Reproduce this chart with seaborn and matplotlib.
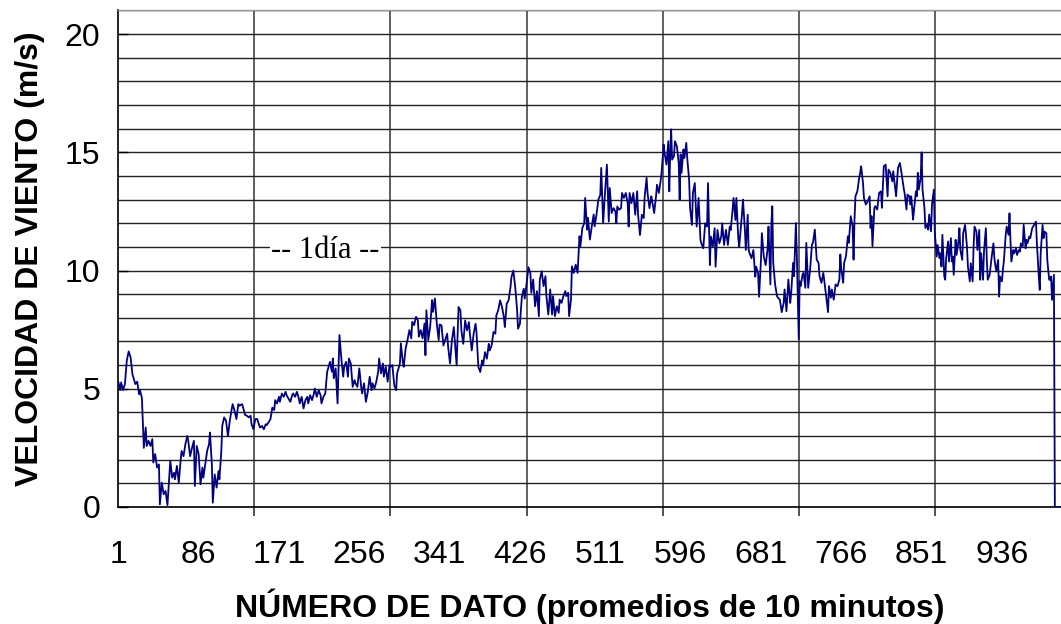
import matplotlib
matplotlib.use("Agg")
import matplotlib.pyplot as plt
import seaborn as sns
import numpy as np
import pandas as pd

# Ten-minute averaged wind speed record (sample number, m/s)
sample_idx = [
    1, 3, 4, 6, 8, 10, 12, 14, 16, 17, 19, 21, 23, 24, 26, 28, 30, 31, 33, 35,
    37, 38, 40, 42, 44, 45, 47, 49, 51, 53, 56, 58, 60, 61, 63, 65, 67, 68, 70, 72,
    74, 75, 77, 79, 81, 82, 84, 86, 88, 90, 91, 93, 95, 97, 98, 100, 101, 103, 105, 107,
    108, 110, 111, 113, 115, 117, 119, 121, 122, 124, 126, 128, 129, 132, 134, 135, 137, 139, 141, 142,
    144, 146, 148, 149, 151, 153, 155, 157, 158, 160, 162, 164, 166,
    167, 169, 171, 172, 174, 176, 178, 179, 181, 183, 185, 186, 188, 190, 192, 193, 195, 197, 199, 201,
    202, 204, 206, 208, 209, 211, 213, 215, 216, 218, 220, 222, 223, 225, 227, 228, 229, 231, 233, 235,
    237, 239, 240, 242, 244, 245, 247, 249, 251, 252, 254, 256, 258, 259, 261, 263, 265, 267, 269, 270,
    272, 274, 276, 277, 279, 281, 282, 284, 286, 288, 289, 291, 293, 295, 296, 299, 300, 302, 303, 305,
    307, 309, 311, 312, 314, 316, 318, 319, 321, 323, 325, 326, 327, 329, 331, 333, 334, 336, 338, 340,
    341, 343, 345, 349, 350, 352, 354, 356, 359, 361, 363, 364, 366, 368, 370, 372, 373, 375, 377, 379,
    380, 382, 384, 386, 387, 389, 391, 393, 394, 396, 398, 400, 401, 403, 405, 407, 409, 410, 412, 414,
    416, 417, 419, 421, 423, 424, 426, 428, 430, 431, 433, 435, 437, 438, 440, 442, 444, 446, 447, 449,
    451, 453, 454, 456, 458, 460, 461, 463, 465, 467, 468, 470, 472, 474, 475, 477, 478, 480, 481, 483,
    485, 487, 489, 490, 492, 494, 495, 497, 498, 500, 502, 504, 505, 507, 509, 511, 512, 514, 516, 518,
    520, 521, 523, 525, 527, 528, 529, 531, 533, 534, 536, 538, 540, 541, 542, 544, 546, 548, 550, 551,
    553, 555, 557, 558, 560, 561, 563, 565, 566, 568, 570, 571, 573, 575, 576, 578, 579, 581, 583, 584,
    585, 586, 587, 589, 590, 592, 594, 595, 596, 597, 599, 600, 602, 603, 605, 606, 608, 609, 611, 613,
    615, 617, 618, 620, 622, 624, 625, 627, 628, 630, 632, 633, 635, 637, 639, 640, 642, 644, 646, 648,
    649, 651, 652, 654, 655, 657, 658, 660, 661, 662, 664, 665, 667, 668, 669, 671, 673, 675, 676, 678,
    679, 681, 682, 684, 686, 688, 689, 691, 692, 693, 694, 696, 698, 699, 701, 703, 705, 706, 708, 710,
    712, 713, 715, 716, 718, 719, 721, 722, 723, 725, 726, 728, 729, 731, 733, 735, 736, 738, 740, 742,
    743, 745, 747, 749, 750, 752, 753, 755, 756, 758, 760, 762, 764, 765, 766, 768, 769, 771, 773, 774,
    776, 778, 779, 780, 781, 783, 785, 786, 787, 789, 790, 792, 794, 796, 797, 798, 799, 801, 802, 804,
    806, 808, 809, 811, 813, 815, 816, 818, 820, 821, 823, 824, 826, 828, 830, 832, 833, 835, 836, 838,
    839, 840, 842, 843, 845, 846, 847, 848, 850, 851, 852, 854, 855, 857, 858, 859, 861, 862, 864, 865,
    867, 868, 870, 871, 872, 873, 875, 876, 877, 879, 880, 882, 883, 884, 885, 887, 888, 890, 891, 892,
    894, 895, 897, 899, 900, 902, 903, 905, 906, 907, 909, 910, 912, 913, 914, 916, 917, 919, 920, 921,
    923, 925, 927, 928, 930, 932, 933, 934, 936, 937, 938, 940, 941, 943, 944, 945, 946, 948, 949, 951,
    952, 954, 955, 956, 958, 959, 961, 962, 963, 965, 966, 968, 969, 970, 972, 973, 975, 976, 977, 979,
    980, 981, 983, 984, 986, 987, 988, 989, 991, 992, 998,
]
wind_speed = [
    5.3, 4.95, 5.27, 4.94, 5.2, 6.2, 6.58, 6.33, 5.6, 5.48, 5.2, 5.3, 4.77, 4.94, 4.6, 2.5, 3.36, 2.58, 2.8, 2.58,
    2.87, 1.88, 2.24, 1.67, 1.8, 0.11, 1.03, 0.54, 0.68, 0.08, 1.95, 1.24, 1.45, 1.17, 1.74, 1.03, 2.0, 2.37, 2.15, 2.66,
    3.0, 2.8, 2.15, 2.5, 2.8, 0.89, 2.58, 2.24, 0.96, 1.67, 1.24, 1.8, 2.37, 2.66, 3.15, 1.8, 0.18, 1.38, 0.82, 1.52,
    1.17, 2.37, 3.43, 3.79, 3.65, 3.0, 3.65, 4.14, 4.35, 4.07, 3.72, 4.35, 4.28, 4.35, 4.07, 3.9, 3.86, 3.79, 3.86, 3.5,
    3.29, 3.72, 3.72, 3.58, 3.36, 3.43, 3.29, 3.5, 3.46, 3.58, 3.72, 4.2, 4.1,
    4.52, 4.38, 4.66, 4.45, 4.8, 4.66, 4.87, 4.73, 4.59, 4.45, 4.73, 4.8, 4.66, 4.87, 4.59, 4.38, 4.66, 4.17, 4.52, 4.66,
    4.38, 4.73, 4.52, 4.8, 5.01, 4.66, 4.94, 4.73, 4.38, 4.66, 4.8, 5.72, 5.86, 6.14, 5.72, 6.28, 5.44, 5.86, 4.38, 7.27,
    6.28, 5.51, 5.93, 6.14, 5.51, 6.28, 6.07, 5.08, 5.37, 5.23, 5.08, 5.86, 5.08, 4.8, 5.23, 4.45, 4.87, 5.51, 4.94, 5.23,
    5.01, 5.3, 5.72, 6.28, 5.65, 6.07, 5.51, 5.93, 5.3, 6.0, 5.93, 6.0, 5.15, 4.94, 5.65, 6.07, 6.92, 6.14, 5.93, 6.7,
    7.06, 7.48, 7.13, 7.83, 7.69, 8.04, 7.9, 7.2, 7.48, 7.13, 7.76, 6.42, 8.32, 7.06, 7.62, 8.75, 8.25, 8.82, 7.76, 7.06,
    7.72, 7.68, 6.83, 7.33, 6.77, 6.07, 7.05, 7.61, 5.99, 8.46, 8.32, 7.47, 6.9, 7.89, 7.47, 7.82, 7.33, 6.62, 7.33, 7.75,
    7.4, 5.92, 5.71, 6.2, 5.99, 6.55, 6.27, 6.9, 6.62, 6.83, 7.4, 7.33, 8.1, 8.32, 8.74, 8.46, 8.03, 7.61, 8.6, 8.74,
    9.3, 9.72, 10.0, 9.3, 8.32, 7.54, 7.75, 8.88, 9.23, 8.81, 9.44, 10.14, 9.9, 9.06, 9.62, 8.49, 9.13, 8.07, 9.62, 9.97,
    9.34, 9.76, 8.92, 8.14, 9.2, 8.14, 8.92, 8.07, 8.49, 8.21, 8.77, 8.63, 8.92, 9.13, 8.92, 9.06, 8.07, 8.77, 10.18, 9.9,
    10.25, 9.9, 11.45, 11.03, 11.8, 12.0, 13.07, 11.73, 12.23, 11.31, 11.87, 12.37, 11.87, 12.37, 13.0, 13.2, 14.34, 12.0, 13.28, 14.48,
    12.07, 13.49, 12.43, 12.64, 12.5, 12.0, 12.71, 12.57, 12.64, 13.28, 13.07, 13.28, 12.85, 11.86, 13.28, 12.85, 13.28, 12.36, 13.35, 12.36,
    11.5, 12.36, 12.22, 13.14, 13.92, 13.28, 12.64, 13.14, 12.92, 12.43, 13.14, 13.63, 13.28, 13.84, 14.2, 15.33, 14.98, 14.48, 15.47, 13.35,
    14.98, 15.97, 14.69, 14.84, 15.47, 15.26, 14.55, 12.99, 14.91, 14.13, 15.12, 14.76, 15.4, 14.76, 13.84, 12.64, 11.93, 13.28, 13.7, 11.86,
    13.07, 11.29, 11.15, 10.94, 12.0, 11.86, 13.7, 10.23, 11.44, 11.01, 11.79, 10.16, 11.72, 11.15, 11.44, 12.0, 11.08, 11.72, 11.08, 11.86,
    11.72, 12.57, 13.07, 12.14, 13.07, 11.37, 11.01, 11.93, 12.43, 13.0, 11.72, 10.87, 12.36, 10.87, 10.73, 10.52, 10.87, 9.74, 10.16, 9.88,
    8.89, 10.44, 11.58, 10.59, 10.23, 10.9, 11.86, 9.41, 11.94, 12.72, 10.32, 9.41, 8.92, 8.85, 8.77, 8.24, 8.63, 9.2, 8.28, 9.62,
    8.63, 9.06, 10.32, 9.76, 12.01, 10.61, 7.1, 9.55, 9.34, 9.83, 9.9, 9.27, 11.17, 9.27, 10.04, 11.1, 11.17, 11.73, 10.46, 10.32,
    9.76, 9.48, 9.9, 9.27, 8.92, 8.24, 9.34, 8.85, 9.2, 8.77, 9.41, 9.34, 9.62, 10.68, 10.04, 9.48, 10.32, 10.61, 11.45, 11.17,
    12.3, 11.87, 10.46, 12.15, 13.14, 13.35, 13.92, 14.13, 14.41, 13.7, 13.07, 12.79, 12.93, 13.14, 11.8, 12.3, 11.03, 12.65, 12.72, 12.58,
    13.28, 13.35, 12.65, 14.41, 14.48, 13.14, 14.27, 14.13, 13.77, 14.2, 13.49, 13.14, 14.34, 14.55, 14.06, 13.49, 13.28, 12.58, 13.21, 13.14,
    12.79, 13.14, 12.15, 12.58, 13.35, 13.14, 14.13, 13.42, 13.92, 15.0, 13.42, 12.65, 11.8, 11.94, 11.73, 12.37, 11.66, 12.79, 13.42, 11.58,
    10.59, 11.08, 10.52, 10.73, 10.17, 11.51, 9.75, 9.61, 10.52, 11.23, 10.38, 11.37, 10.38, 10.59, 9.82, 11.3, 10.66, 11.23, 11.79, 10.87,
    10.45, 11.58, 11.93, 11.01, 10.17, 9.54, 10.31, 9.54, 11.01, 11.86, 11.65, 10.87, 11.72, 9.61, 10.73, 9.61, 10.8, 11.79, 10.45, 9.61,
    9.82, 10.52, 11.15, 10.52, 9.96, 10.45, 8.9, 9.75, 9.54, 10.03, 10.38, 11.51, 11.86, 11.51, 12.42, 11.3, 10.38, 10.87, 10.73, 10.94,
    10.66, 10.87, 10.8, 11.15, 11.01, 11.93, 10.94, 11.3, 11.15, 11.44, 11.37, 11.79, 11.86, 11.93, 12.07, 11.15, 9.75, 9.18, 10.73, 11.93,
    11.37, 11.65, 11.58, 10.45, 9.61, 9.61, 9.75, 8.76, 9.82, 0.0, 0.0,
]

# Axis annotations
x_tick_labels = [1, 86, 171, 256, 341, 426, 511, 596, 681, 766, 851, 936]
day_marks = [1, 145, 289, 433, 577, 721, 865]
y_major = [0, 5, 10, 15, 20]
y_minor = list(range(0, 22))

df = pd.DataFrame({"dato": sample_idx, "velocidad": wind_speed})

sns.set_theme(style="white")
plt.rcParams["font.family"] = ["Liberation Sans", "DejaVu Sans"]
plt.rcParams["text.color"] = "black"
plt.rcParams["axes.labelcolor"] = "black"
plt.rcParams["xtick.color"] = "black"
plt.rcParams["ytick.color"] = "black"

fig = plt.figure(figsize=(10.61, 6.24), dpi=100)
ax = fig.add_axes([0.1115, 0.1875, 0.8885, 0.7958])

sns.lineplot(data=df, x="dato", y="velocidad", ax=ax, color="#000080",
             linewidth=1.3, zorder=3)

ax.set_xlim(1, 998.5)
ax.set_ylim(0, 21)

# y axis: labelled every 5, gridlines every 1
ax.set_yticks(y_major)
ax.set_yticks(y_minor, minor=True)
ax.set_yticklabels([str(v) for v in y_major], fontsize=23, color="black")
ax.tick_params(axis="y", which="major", direction="in", length=7, width=1,
               color="black", pad=13, left=True)
ax.tick_params(axis="y", which="minor", length=0)
ax.grid(axis="y", which="both", color="#222222", linewidth=1.0, zorder=1)

# x axis: labels every 85 samples, day separators every 144 samples
ax.set_xticks(x_tick_labels)
ax.set_xticklabels([str(v) for v in x_tick_labels], fontsize=23, color="black")
ax.set_xticks(day_marks, minor=True)
ax.tick_params(axis="x", which="major", length=0, pad=24)
ax.tick_params(axis="x", which="minor", direction="out", length=6.5,
               width=1.2, color="#333333", bottom=True)
ax.grid(axis="x", which="minor", color="#444444", linewidth=1.2, zorder=1)
ax.grid(axis="x", which="major", visible=False)

for side in ["left", "bottom"]:
    ax.spines[side].set_color("black")
    ax.spines[side].set_linewidth(1.2)
ax.spines["top"].set_color("#999999")
ax.spines["top"].set_linewidth(1.0)
ax.spines["right"].set_visible(False)

ax.set_xlabel("NÚMERO DE DATO (promedios de 10 minutos)", fontsize=23,
              fontweight="bold", color="black")
ax.set_ylabel("VELOCIDAD DE VIENTO (m/s)", fontsize=23, fontweight="bold",
              color="black")
ax.xaxis.set_label_coords(0.5, -0.199)
ax.xaxis.label.set_va("center")
ax.yaxis.set_label_coords(-0.0937, 0.5)
ax.yaxis.label.set_va("center")

ax.text(220, 10.85, "-- 1día --", family=["Liberation Serif", "DejaVu Serif"],
        fontsize=22, ha="center", va="center", zorder=4, color="black",
        bbox=dict(facecolor="white", edgecolor="none", pad=1.0))

fig.savefig("out.png", dpi=100, facecolor="white")
